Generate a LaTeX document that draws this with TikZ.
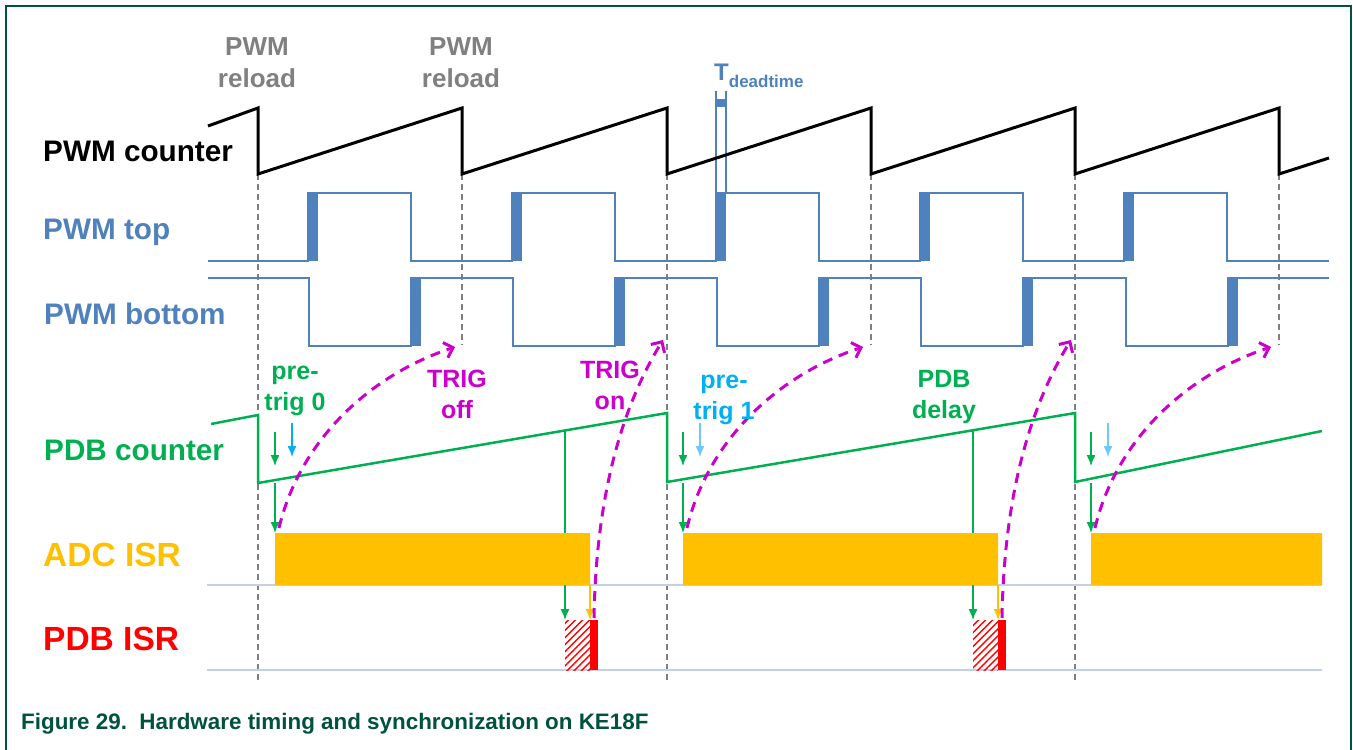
\documentclass[tikz,border=0pt]{standalone}
\usepackage{fontspec}
\setmainfont{Liberation Sans}
\usetikzlibrary{arrows.meta,patterns.meta}
\definecolor{pwmblue}{RGB}{79,129,189}
\definecolor{pdbgreen}{RGB}{0,176,80}
\definecolor{trigpink}{RGB}{204,0,204}
\definecolor{adcorange}{RGB}{255,192,0}
\definecolor{pretrigblue}{RGB}{0,176,240}
\definecolor{lightcyan}{RGB}{110,200,250}
\definecolor{reloadgray}{RGB}{128,128,128}
\definecolor{baseblue}{RGB}{195,208,230}
\definecolor{framegreen}{RGB}{0,82,62}

\begin{document}
\begin{tikzpicture}[x=1pt,y=-1pt,
    lbl/.style={anchor=base west,inner sep=0pt,font=\fontsize{29.7}{30}\selectfont\bfseries},
    isrlbl/.style={anchor=base west,inner sep=0pt,font=\fontsize{33.5}{34}\selectfont\bfseries},
    note/.style={anchor=base,inner sep=0pt,align=center,font=\fontsize{25}{31}\selectfont\bfseries},
    sync/.style={reloadgray,line width=1.5pt,dash pattern=on 6pt off 4pt},
    wave/.style={pwmblue,line width=2pt},
    tick/.style={line width=1.4pt,-{Latex[length=11pt,width=9pt]}},
    trig/.style={trigpink,line width=3pt,dash pattern=on 10pt off 7pt,-{Straight Barb[length=8pt,width=16pt]}}]

    \useasboundingbox(0,0)rectangle(1353,750);
    \draw[framegreen,line width=2.5pt](6,750)--(6,6)--(1351,6)--(1351,750);

    \foreach \x in {258,667,1075}\draw[sync](\x,174)--(\x,680);
    \foreach \x in {462,871,1279}\draw[sync](\x,174)--(\x,345);

    \draw[pwmblue,line width=1.2pt](716,91)--(716,193)(726,91)--(726,193);
    \fill[pwmblue](716,99)rectangle(726,107);
    \node[anchor=base west,inner sep=0pt,pwmblue,font=\fontsize{24}{24}\selectfont\bfseries](tdead)at(714,80){T\raisebox{-7pt}{\fontsize{17}{17}\selectfont deadtime}};

    \draw[line width=3pt](208,126)--(258,108)--(258,174)--(462,108)--(462,174)--(667,108)--(667,174)--(871,108)--(871,174)--(1075,108)--(1075,174)--(1279,108)--(1279,174)--(1329,158);

    \draw[wave](208,261)foreach \a in {308,512,716,920,1124}{--(\a,261)--(\a,193)--(\a+103,193)--(\a+103,261)}--(1329,261);
    \foreach \a in {308,512,716,920,1124}\fill[pwmblue](\a,193)rectangle(\a+10,261);
    \draw[wave](208,278)foreach \a in {309,513,717,921,1126}{--(\a,278)--(\a,346)--(\a+102,346)--(\a+102,278)}--(1329,278);
    \foreach \a in {411,615,819,1023,1228}\fill[pwmblue](\a,278)rectangle(\a+10,346);

    \draw[pdbgreen,line width=2.5pt](211,424)--(258,415)--(258,483)--(667,413)--(667,482)--(1075,413)--(1075,482)--(1322,431);

    \draw[baseblue,line width=1.2pt](207,585)--(1322,585)(207,670)--(1322,670);
    \draw[pdbgreen,tick](565,431)--(565,620);
    \draw[pdbgreen,tick](973,430)--(973,620);
    \fill[adcorange](275,533)rectangle(590,585)(683,533)rectangle(998,585)(1091,533)rectangle(1322,585);
    \draw[adcorange,tick](590,585)--(590,620);
    \draw[adcorange,tick](998,585)--(998,620);

    \foreach \x in {565,973}{
        \fill[pattern={Lines[angle=45,distance=5pt,line width=1.4pt]},pattern color=red](\x,620)rectangle(\x+25,670);
        \fill[red](\x+25,620)rectangle(\x+33,670);
    }

    \foreach \x in {275,683,1091}{
        \draw[pdbgreen,tick](\x,432)--(\x,466);
        \draw[pdbgreen,tick](\x,483)--(\x,533);
    }
    \draw[pretrigblue,tick](292,423)--(292,457);
    \draw[lightcyan,tick](700,423)--(700,457);
    \draw[lightcyan,tick](1108,423)--(1108,457);

    \foreach \s in {0,408,816}\draw[trig](279+\s,528)..controls(300+\s,440)and(370+\s,375)..(455+\s,347);
    \foreach \s in {0,408}\draw[trig](594+\s,618)..controls(596+\s,500)and(620+\s,410)..(663+\s,340);

    \node[note,reloadgray,font=\fontsize{26}{32}\selectfont\bfseries](reloadA)at(257,87){PWM\\reload};
    \node[note,reloadgray,font=\fontsize{26}{32}\selectfont\bfseries](reloadB)at(461,87){PWM\\reload};

    \node[lbl](pwmcnt)at(43,161){PWM counter};
    \node[lbl,pwmblue](pwmtop)at(43,239){PWM top};
    \node[lbl,pwmblue](pwmbot)at(44,324){PWM bottom};
    \node[lbl,pdbgreen](pdbcnt)at(44,460){PDB counter};
    \node[isrlbl,adcorange](adcisr)at(43,566){ADC ISR};
    \node[isrlbl,red](pdbisr)at(43,650){PDB ISR};

    \node[note,pdbgreen](pretrigA)at(295,410){pre-\\trig 0};
    \node[note,trigpink](trigoff)at(457,418){TRIG\\off};
    \node[note,trigpink](trigon)at(610,409){TRIG\\on};
    \node[note,pretrigblue](pretrigB)at(724,419){pre-\\trig 1};
    \node[note,pdbgreen](pdbdelay)at(944,418){PDB\\delay};

    \node[anchor=base west,inner sep=0pt,framegreen,font=\fontsize{22.4}{24}\selectfont\bfseries](caption)at(21,729){Figure 29.\ \ Hardware timing and synchronization on KE18F};
\end{tikzpicture}
\end{document}
